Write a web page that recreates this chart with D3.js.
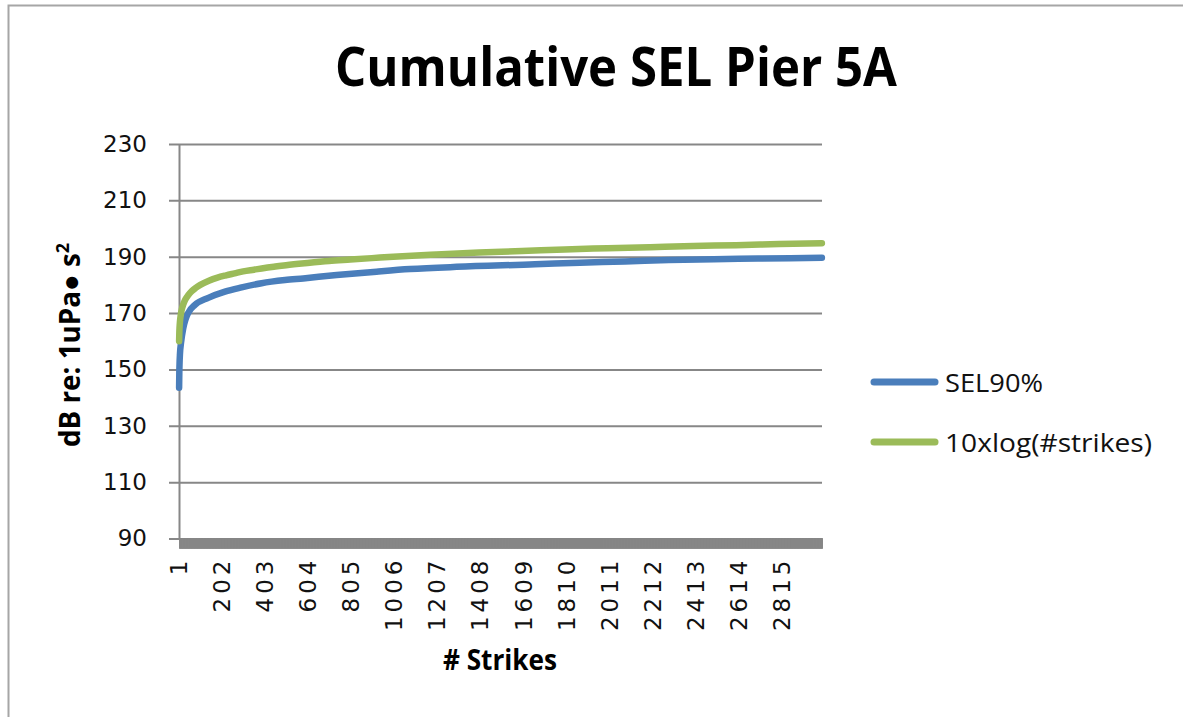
<!DOCTYPE html>
<html><head><meta charset="utf-8">
<script src="https://cdn.jsdelivr.net/npm/d3@7"></script>
<style>body{margin:0;background:#fff} svg{display:block}</style>
</head><body>
<svg id="chart" width="1183" height="717"></svg>
<script>
// ---- data ----
const chartTitle = "Cumulative SEL Pier 5A";
const xAxisTitle = "# Strikes";
const nStrikes = 3000;
const xTickLabels = [1,202,403,604,805,1006,1207,1408,1609,1810,2011,2212,2413,2614,2815];
const yTickLabels = [90,110,130,150,170,190,210,230];
const seriesNames = ["SEL90%", "10xlog(#strikes)"];
const seriesColors = ["#4a7ebb", "#9bbb59"];
const sel90Strikes = [1,2,3,5,10,20,30,43,75,137,215,293,386,495,580,736,922,1078,1296,1661,1871,2081,2286,2496,2702,3000];
const sel90Values  = [143.5,149,152,155.5,159.5,164.5,167.5,170,172.9,175.4,177.6,179.1,180.6,181.7,182.3,183.5,184.7,185.6,186.4,187.3,187.9,188.3,188.8,189.1,189.35,189.6];
const logStrikes = [1,2,3,5,8,12,20,30,45,60,80,100,140,180,220,260,300,350,400,450,500,600,700,800,900,1000,1200,1400,1600,1800,2000,2200,2400,2600,2800,3000];
const logValues  = [160,163,164.8,167,169,170.8,173,174.8,176.5,177.8,179,180,181.5,182.6,183.4,184.1,184.8,185.4,186,186.5,187,187.8,188.5,189,189.5,190,190.8,191.5,192,192.6,193,193.4,193.8,194.1,194.5,194.8];

// ---- layout ----
const L = 179, R = 822, T = 144, B = 538.5;
const svg = d3.select("#chart");
const gray = "#878787";

svg.append("rect").attr("x", 8.5).attr("y", 5.5).attr("width", 1400).attr("height", 1000)
  .attr("fill", "#fff").attr("stroke", "#a6a6a6").attr("stroke-width", 2);

const x = d3.scaleLinear().domain([0.5, nStrikes + 0.5]).range([L, R]);
const y = d3.scaleLinear().domain([90, 230]).range([B, T]);

// gridlines
const grid = svg.append("g").attr("transform", `translate(${L - 10},0)`)
  .call(d3.axisLeft(y).tickValues(yTickLabels).tickSize(-(R - L + 10)).tickFormat(""));
grid.select(".domain").remove();
grid.selectAll("line").attr("stroke", gray).attr("stroke-width", 2);

// y axis with labels
const yAx = svg.append("g").attr("transform", `translate(${L},0)`)
  .call(d3.axisLeft(y).tickValues(yTickLabels).tickSize(0).tickSizeOuter(0).tickPadding(32));
yAx.select(".domain").attr("stroke", gray).attr("stroke-width", 2);
yAx.selectAll("text").attr("font-family", "DejaVu Sans").attr("font-size", 23).attr("fill", "#111");

// x axis: tick marks at every category boundary (forms the gray band)
const bounds = d3.range(0, nStrikes + 1).map(i => i + 0.5);
const xBand = svg.append("g").attr("transform", `translate(0,${B})`)
  .call(d3.axisBottom(x).tickValues(bounds).tickSize(10).tickSizeOuter(0).tickFormat(""));
xBand.select(".domain").attr("stroke", gray).attr("stroke-width", 2);
xBand.selectAll("line").attr("stroke", gray).attr("stroke-width", 1);

// x labels
const xAx = svg.append("g").attr("transform", `translate(0,${B})`)
  .call(d3.axisBottom(x).tickValues(xTickLabels).tickSize(0).tickFormat(d3.format("d")));
xAx.select(".domain").remove();
xAx.selectAll("text")
  .attr("transform", "rotate(-90)")
  .attr("x", -18).attr("y", -1).attr("dy", "0.36em")
  .attr("text-anchor", "end")
  .attr("font-family", "DejaVu Sans").attr("font-size", 23)
  .attr("letter-spacing", 4).attr("fill", "#111");

// lines
const line = d3.line().x(d => x(d[0])).y(d => y(d[1])).curve(d3.curveMonotoneX);
const series = [
  d3.zip(sel90Strikes, sel90Values),
  d3.zip(logStrikes, logValues)
];
series.forEach((s, i) => {
  svg.append("path").datum(s).attr("d", line)
    .attr("fill", "none").attr("stroke", seriesColors[i])
    .attr("stroke-width", 6.5).attr("stroke-linejoin", "round").attr("stroke-linecap", "round");
});

// title
svg.append("text").attr("x", 616).attr("y", 86).attr("text-anchor", "middle")
  .attr("font-family", "Open Sans").attr("font-weight", "bold").attr("font-size", 53)
  .attr("textLength", 562).attr("lengthAdjust", "spacingAndGlyphs").attr("fill", "#000")
  .text(chartTitle);

// x title
svg.append("text").attr("x", 500).attr("y", 670).attr("text-anchor", "middle")
  .attr("font-family", "Open Sans").attr("font-weight", "bold").attr("font-size", 28)
  .attr("textLength", 114).attr("lengthAdjust", "spacingAndGlyphs").attr("fill", "#000")
  .text(xAxisTitle);

// y title
const yt = svg.append("text").attr("transform", "translate(80,345) rotate(-90)")
  .attr("text-anchor", "middle")
  .attr("font-family", "Open Sans").attr("font-weight", "bold").attr("font-size", 28)
  .attr("textLength", 204).attr("lengthAdjust", "spacingAndGlyphs").attr("fill", "#000");
yt.append("tspan").text("dB re: 1uPa\u25CF s");
yt.append("tspan").attr("dy", -11).attr("font-size", 18).text("2");

// legend
const legY = [382, 442];
const legW = [98, 207];
seriesNames.forEach((name, i) => {
  svg.append("line").attr("x1", 874).attr("x2", 935).attr("y1", legY[i]).attr("y2", legY[i])
    .attr("stroke", seriesColors[i]).attr("stroke-width", 7).attr("stroke-linecap", "round");
  svg.append("text").attr("x", 945).attr("y", legY[i] + 10)
    .attr("font-family", "Open Sans").attr("font-size", 25)
    .attr("textLength", legW[i]).attr("lengthAdjust", "spacingAndGlyphs").attr("fill", "#111")
    .text(name);
});
</script>
</body></html>
